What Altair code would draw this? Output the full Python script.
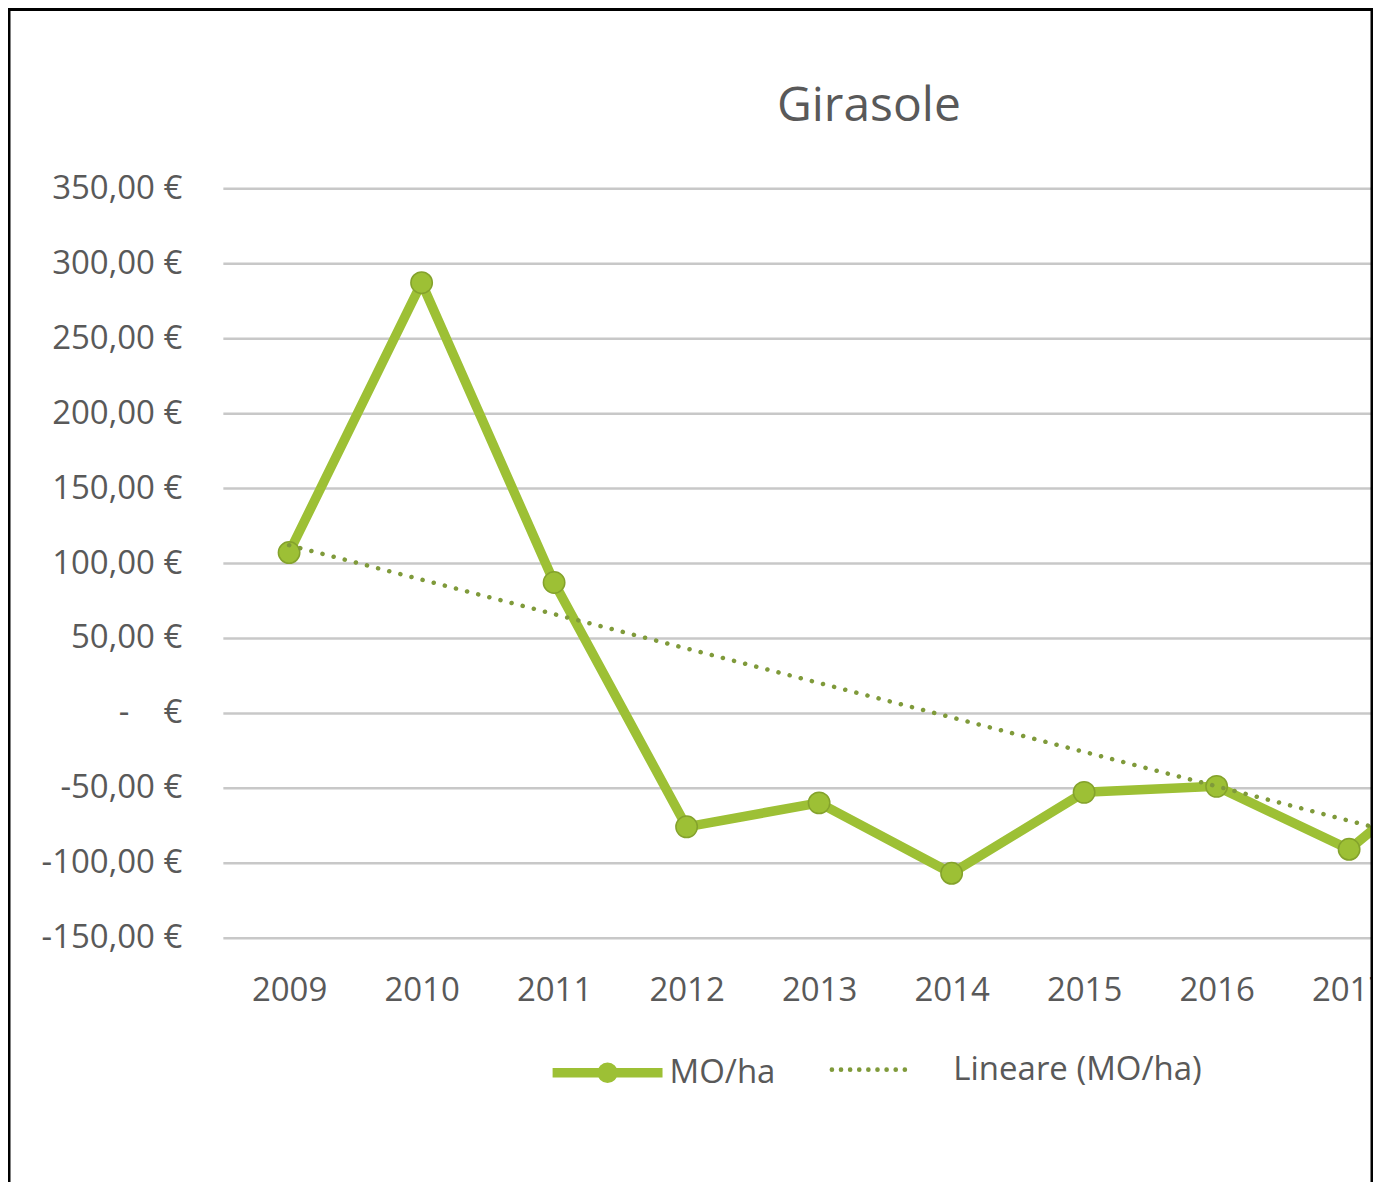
import altair as alt
import pandas as pd

# ---- data ----
years = [2009, 2010, 2011, 2012, 2013, 2014, 2015, 2016, 2017, 2018, 2019]
mo_ha = [107, 287, 87, -76, -60, -107, -53, -49, -91, -18, -60]
y_ticks = [-150, -100, -50, 0, 50, 100, 150, 200, 250, 300, 350]
series_main = "MO/ha"
series_trend = "Lineare (MO/ha)"
title_text = "Girasole"

df = pd.DataFrame({"year": years, "value": mo_ha, "series": series_main})

# ---- styles ----
GREEN = "#9dc035"
GREEN_DARK = "#84a22c"
OLIVE = "#7f9a3a"
TEXT = "#595959"
FONT = "Open Sans"
STEP = 132.6
W, H = 1151, 750

x_scale = alt.Scale(type="point", domain=years, range=[0, STEP * len(years)], padding=0.5)
y_scale = alt.Scale(domain=[y_ticks[0], y_ticks[-1]], nice=False, zero=False)

x_axis = alt.Axis(title=None, labelAngle=0, labelAlign="center", domain=False, ticks=False,
                  grid=False, labelPadding=37, labelFontSize=33, labelFont=FONT,
                  labelColor=TEXT)
y_axis = alt.Axis(title=None, values=y_ticks, domain=False, ticks=False, grid=True,
                  gridColor="#c8c8c8", gridWidth=2.5, labelPadding=41,
                  labelFontSize=33, labelFont=FONT, labelColor=TEXT,
                  labelExpr="datum.value == 0 ? '-\u00a0\u00a0\u00a0\u00a0€' : "
                            "(datum.value < 0 ? '-' : '') + "
                            "replace(format(abs(datum.value), '.2f'), '.', ',') + '\u00a0€'")

# legend symbol paths (unit coordinates)
main_sym = "M-1,0H1M0.1,0A0.1,0.1,0,1,1,-0.1,0A0.1,0.1,0,1,1,0.1,0Z"
dot_r = 0.03
dot_sym = "".join(
    f"M{(-1 + i * 0.25) - dot_r:.3f},0a{dot_r},{dot_r} 0 1,0 {2 * dot_r},0"
    f"a{dot_r},{dot_r} 0 1,0 {-2 * dot_r},0"
    for i in range(9)
)

line = alt.Chart(df).mark_line(strokeWidth=9.5, strokeJoin="round").encode(
    x=alt.X("year:O", scale=x_scale, axis=x_axis),
    y=alt.Y("value:Q", scale=y_scale, axis=y_axis),
    color=alt.Color("series:N",
                    scale=alt.Scale(domain=[series_main], range=[GREEN]),
                    legend=alt.Legend(title=None, orient="none", legendX=325, legendY=825,
                                      padding=0, symbolType=main_sym, symbolSize=12100,
                                      symbolStrokeWidth=9.5, symbolStrokeColor=GREEN,
                                      labelOffset=2, labelFontSize=33, labelFont=FONT,
                                      labelColor=TEXT, labelLimit=400)),
)

points = alt.Chart(df).mark_point(filled=True, size=460, color=GREEN, stroke=GREEN_DARK,
                                  strokeWidth=1.5, opacity=1).encode(
    x=alt.X("year:O", scale=x_scale, axis=x_axis),
    y=alt.Y("value:Q", scale=y_scale, axis=y_axis),
)

trend = alt.Chart(df).transform_regression(
    "year", "value", method="linear", extent=[years[0], years[-1]]
).transform_calculate(series=f"'{series_trend}'").mark_line(
    strokeWidth=4.5, strokeCap="round", strokeDash=[0.1, 11.4], color=OLIVE
).encode(
    x=alt.X("year:O", scale=x_scale, axis=x_axis),
    y=alt.Y("value:Q", scale=y_scale, axis=y_axis),
    opacity=alt.Opacity("series:N",
                        scale=alt.Scale(domain=[series_trend], range=[1]),
                        legend=alt.Legend(title=None, orient="none", legendX=608, legendY=844,
                                          padding=0, symbolType=dot_sym, symbolSize=5329,
                                          symbolStrokeWidth=2.5, symbolStrokeColor=OLIVE,
                                          symbolFillColor=OLIVE,
                                          labelOffset=47, labelFontSize=33, labelFont=FONT,
                                          labelColor=TEXT, labelLimit=400)),
)

frame = alt.Chart(alt.Data(values=[{"f": 1}])).mark_rect(
    filled=False, stroke="black", strokeWidth=3
).encode(
    x=alt.value(-214), x2=alt.value(W - 1), y=alt.value(-179), y2=alt.value(1100)
)

chart = alt.layer(line, points, trend, frame).properties(
    width=W, height=H,
    background="white",
    title=alt.Title(title_text, fontSize=48, font=FONT, color=TEXT, fontWeight="normal",
                    anchor="middle", frame="group", dx=71, offset=0, dy=161,
                    baseline="alphabetic"),
    autosize=alt.AutoSizeParams(type="none"),
    padding={"left": 215, "top": 180, "right": 0, "bottom": 244},
).configure_view(
    stroke="transparent", strokeWidth=0
).configure_axisX(
    domain=False, ticks=False, grid=False
).configure_axisY(domain=False, ticks=False)

chart.save("out.html", embed_options={"renderer": "svg", "actions": False})
